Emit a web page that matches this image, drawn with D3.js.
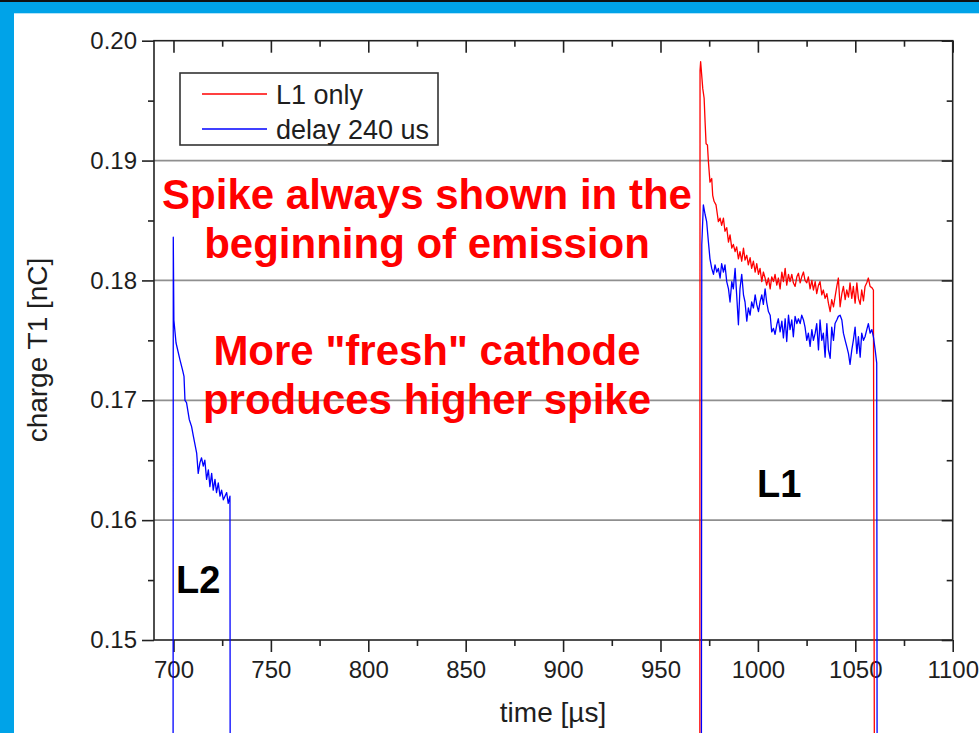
<!DOCTYPE html>
<html>
<head>
<meta charset="utf-8">
<script src="https://cdn.jsdelivr.net/npm/d3@7"></script>
<style>
  html, body { margin: 0; padding: 0; background: #fff; }
  svg { display: block; font-family: "Liberation Sans", Arial, sans-serif; }
</style>
</head>
<body>
<svg id="chart" width="979" height="733"></svg>
<script>
// ---------------- data ----------------
const xMajorTicks = [700, 750, 800, 850, 900, 950, 1000, 1050, 1100];
const xMinorTicks = [725, 775, 825, 875, 925, 975, 1025, 1075];
const yMajorTicks = [0.15, 0.16, 0.17, 0.18, 0.19, 0.20];
const yMinorTicks = [0.155, 0.165, 0.175, 0.185, 0.195];
const gridValues = [0.16, 0.17, 0.18, 0.19];

const seriesNames = ["L1 only", "delay 240 us"];
const seriesColors = ["#ff0000", "#0000ff"];

// L2 pulse (delay 240 us run)
const l2Time = [699.8, 699.9, 700.2, 701.3, 703.3, 704.7, 705.4, 705.9, 706.7, 708.1, 709.3, 710.2, 711.9, 712.7, 713.6, 714.4, 715.3, 716.1, 717.0, 717.9, 718.7, 719.6, 720.4, 721.3, 722.1, 723.0, 723.9, 724.7, 725.6, 727.3, 728.1, 729.0, 729.1];
const l2Charge = [0.140, 0.1836, 0.1767, 0.1748, 0.1734, 0.1725, 0.1720, 0.1700, 0.1698, 0.1684, 0.1678, 0.1670, 0.1656, 0.1639, 0.1648, 0.1652, 0.1645, 0.1650, 0.1634, 0.1642, 0.1628, 0.1639, 0.1625, 0.1634, 0.1623, 0.1631, 0.1620, 0.1625, 0.1617, 0.1623, 0.1614, 0.1620, 0.140];

// L1 pulse, L1 only
const l1OnlyTime = [970.2, 970.3, 970.6, 971.7, 972.4, 972.9, 973.4, 974.1, 974.6, 975.4, 976.3, 976.8, 977.5, 978.5, 979.2, 979.7, 980.6, 981.4, 982.3, 983.1, 984.0, 984.9, 985.7, 986.6, 987.4, 988.3, 989.1, 990.0, 990.8, 991.7, 992.6, 993.4, 994.3, 995.1, 996.0, 996.8, 997.7, 998.6, 999.4, 1000.3, 1001.1, 1002.0, 1002.8, 1003.7, 1004.5, 1005.4, 1006.3, 1007.1, 1008.0, 1008.8, 1009.7, 1010.5, 1011.4, 1012.3, 1013.1, 1014.0, 1014.8, 1015.7, 1016.5, 1017.4, 1018.2, 1019.1, 1020.0, 1020.8, 1021.7, 1022.5, 1023.4, 1024.2, 1025.1, 1025.9, 1026.8, 1027.7, 1028.5, 1029.4, 1030.2, 1031.1, 1031.9, 1032.8, 1033.6, 1034.5, 1035.4, 1036.2, 1037.1, 1037.9, 1038.8, 1039.6, 1040.5, 1041.3, 1042.2, 1043.1, 1043.9, 1044.8, 1045.6, 1046.5, 1047.3, 1048.2, 1049.0, 1049.9, 1050.8, 1051.6, 1052.5, 1053.3, 1054.2, 1055.0, 1055.9, 1056.7, 1057.6, 1058.5, 1059.3, 1059.8];
const l1OnlyCharge = [0.140, 0.1975, 0.19825, 0.1960, 0.1952, 0.1932, 0.1914, 0.1913, 0.1899, 0.1882, 0.1885, 0.1871, 0.1866, 0.1863, 0.1855, 0.1849, 0.1852, 0.1846, 0.1852, 0.1841, 0.1844, 0.1832, 0.1838, 0.1827, 0.1830, 0.1824, 0.1828, 0.1818, 0.1824, 0.1816, 0.1827, 0.1817, 0.1821, 0.1813, 0.1819, 0.1810, 0.1816, 0.1807, 0.1814, 0.1805, 0.1810, 0.1799, 0.1807, 0.1802, 0.1796, 0.1802, 0.1793, 0.1803, 0.1799, 0.1805, 0.1796, 0.1802, 0.1793, 0.1807, 0.1799, 0.1810, 0.1796, 0.1805, 0.1799, 0.1805, 0.1798, 0.1795, 0.1803, 0.1806, 0.1798, 0.1803, 0.1807, 0.1800, 0.1798, 0.1803, 0.1793, 0.1800, 0.1792, 0.1799, 0.1789, 0.1796, 0.1799, 0.1788, 0.1792, 0.1785, 0.1789, 0.1781, 0.1774, 0.1784, 0.1778, 0.1786, 0.1795, 0.1802, 0.1778, 0.1789, 0.1795, 0.1784, 0.1792, 0.1786, 0.1798, 0.1785, 0.1795, 0.1781, 0.1798, 0.1785, 0.1780, 0.1792, 0.1783, 0.1795, 0.1798, 0.1802, 0.1795, 0.1794, 0.1792, 0.140];

// L1 pulse, delay 240 us
const l1DelayTime = [971.0, 971.2, 972.0, 972.9, 973.7, 974.6, 975.4, 976.3, 977.2, 978.0, 978.9, 979.7, 980.6, 981.4, 982.3, 983.1, 984.0, 984.9, 985.7, 986.6, 987.4, 988.3, 989.1, 990.0, 990.8, 991.7, 992.6, 993.4, 994.3, 995.1, 996.0, 996.8, 997.7, 998.6, 999.4, 1000.3, 1001.1, 1002.0, 1002.8, 1003.7, 1004.5, 1005.4, 1006.3, 1007.1, 1008.0, 1008.8, 1009.7, 1010.5, 1011.4, 1012.3, 1013.1, 1014.0, 1014.8, 1015.7, 1016.5, 1017.4, 1018.2, 1019.1, 1020.0, 1020.8, 1021.7, 1022.5, 1023.4, 1024.2, 1025.1, 1025.9, 1026.8, 1027.7, 1028.5, 1029.4, 1030.2, 1031.1, 1031.9, 1032.8, 1033.6, 1034.5, 1035.4, 1036.2, 1037.1, 1037.9, 1038.8, 1039.6, 1040.5, 1041.3, 1042.2, 1043.1, 1043.9, 1044.8, 1045.6, 1046.5, 1047.3, 1048.2, 1049.0, 1049.9, 1050.8, 1051.6, 1052.5, 1053.3, 1054.2, 1055.0, 1055.9, 1056.7, 1057.6, 1058.5, 1059.3, 1060.2, 1061.0, 1061.2];
const l1DelayCharge = [0.140, 0.1830, 0.1863, 0.1855, 0.1849, 0.1832, 0.1818, 0.1810, 0.1805, 0.1813, 0.1807, 0.1810, 0.1802, 0.1814, 0.1807, 0.1813, 0.1799, 0.1793, 0.1782, 0.1799, 0.1793, 0.1810, 0.1788, 0.1763, 0.1793, 0.1805, 0.1788, 0.1782, 0.1766, 0.1777, 0.1771, 0.1782, 0.1777, 0.1788, 0.1780, 0.1774, 0.1782, 0.1788, 0.1780, 0.1793, 0.1782, 0.1774, 0.1771, 0.1757, 0.1760, 0.1755, 0.1763, 0.1768, 0.1757, 0.1766, 0.1752, 0.1768, 0.1749, 0.1771, 0.1759, 0.1767, 0.1753, 0.1770, 0.1764, 0.1768, 0.1764, 0.1771, 0.1767, 0.1761, 0.1750, 0.1756, 0.1745, 0.1759, 0.1750, 0.1756, 0.1764, 0.1742, 0.1767, 0.1750, 0.1756, 0.1736, 0.1764, 0.1742, 0.1735, 0.1761, 0.1750, 0.1764, 0.1767, 0.1770, 0.1771, 0.1767, 0.1756, 0.1750, 0.1745, 0.1739, 0.1730, 0.1742, 0.1750, 0.1761, 0.1739, 0.1753, 0.1736, 0.1756, 0.1750, 0.1753, 0.1759, 0.1764, 0.1756, 0.1759, 0.1753, 0.1742, 0.1731, 0.140];

const annotationLines = ["Spike always shown in the", "beginning of emission", "More \"fresh\" cathode", "produces higher spike"];
const pulseLabels = ["L2", "L1"];

// ---------------- drawing ----------------
const svg = d3.select("#chart");
const W = 979, H = 733;
const plotLeft = 154, plotRight = 952.7, plotTop = 40.7, plotBottom = 640;

const x = d3.scaleLinear().domain([690, 1100]).range([plotLeft, plotRight]);
const y = d3.scaleLinear().domain([0.15, 0.20]).range([plotBottom, plotTop]);

// frame (slide decoration)
svg.append("rect").attr("x", 0).attr("y", 0).attr("width", W).attr("height", H).attr("fill", "#fff");
svg.append("rect").attr("x", 0).attr("y", 0).attr("width", W).attr("height", 2).attr("fill", "#111");
svg.append("rect").attr("x", 0).attr("y", 2).attr("width", W).attr("height", 11.3).attr("fill", "#00a3e8");
svg.append("rect").attr("x", 0).attr("y", 2).attr("width", 14).attr("height", H - 2).attr("fill", "#00a3e8");

// grid
svg.append("g").selectAll("line").data(gridValues).join("line")
  .attr("x1", plotLeft).attr("x2", plotRight)
  .attr("y1", d => y(d)).attr("y2", d => y(d))
  .attr("stroke", "#8f8f8f").attr("stroke-width", 1.8);

const tickFont = 24;
function styleAxis(g) {
  g.select(".domain").remove();
  g.selectAll("line").attr("stroke", "#222").attr("stroke-width", 1.6);
  g.selectAll("text").attr("fill", "#1e1e1e").attr("font-size", tickFont)
    .attr("font-family", "'Liberation Sans', Arial, sans-serif");
}

// bottom axis
svg.append("g").attr("transform", `translate(0,${plotBottom})`)
  .call(d3.axisBottom(x).tickValues(xMajorTicks).tickSize(12).tickPadding(9).tickFormat(d3.format("d")))
  .call(styleAxis);
svg.append("g").attr("transform", `translate(0,${plotBottom})`)
  .call(d3.axisBottom(x).tickValues(xMinorTicks).tickSize(6).tickFormat(""))
  .call(styleAxis);
// top axis (inward ticks)
svg.append("g").attr("transform", `translate(0,${plotTop})`)
  .call(d3.axisTop(x).tickValues(xMajorTicks).tickSize(-12).tickFormat(""))
  .call(styleAxis);
svg.append("g").attr("transform", `translate(0,${plotTop})`)
  .call(d3.axisTop(x).tickValues(xMinorTicks).tickSize(-6).tickFormat(""))
  .call(styleAxis);
// left axis
svg.append("g").attr("transform", `translate(${plotLeft},0)`)
  .call(d3.axisLeft(y).tickValues(yMajorTicks).tickSize(12).tickPadding(5).tickFormat(d3.format(".2f")))
  .call(styleAxis);
svg.append("g").attr("transform", `translate(${plotLeft},0)`)
  .call(d3.axisLeft(y).tickValues(yMinorTicks).tickSize(6).tickFormat(""))
  .call(styleAxis);
// right axis (inward ticks)
svg.append("g").attr("transform", `translate(${plotRight},0)`)
  .call(d3.axisRight(y).tickValues(yMajorTicks).tickSize(-11).tickFormat(""))
  .call(styleAxis);
svg.append("g").attr("transform", `translate(${plotRight},0)`)
  .call(d3.axisRight(y).tickValues(yMinorTicks).tickSize(-6).tickFormat(""))
  .call(styleAxis);

// plot frame
svg.append("rect").attr("x", plotLeft).attr("y", plotTop)
  .attr("width", plotRight - plotLeft).attr("height", plotBottom - plotTop)
  .attr("fill", "none").attr("stroke", "#222").attr("stroke-width", 1.6);

// axis titles
svg.append("text").attr("x", 553).attr("y", 722).attr("text-anchor", "middle")
  .attr("font-size", 28).attr("fill", "#1e1e1e").text("time [\u00b5s]");
svg.append("text").attr("transform", "translate(47,350) rotate(-90)").attr("text-anchor", "middle")
  .attr("font-size", 28).attr("fill", "#1e1e1e").text("charge T1 [nC]");

// series
const line = d3.line().x(d => x(d[0])).y(d => y(d[1]));
const zip = (a, b) => a.map((t, i) => [t, b[i]]);
svg.append("path").datum(zip(l1OnlyTime, l1OnlyCharge))
  .attr("d", line).attr("fill", "none").attr("stroke", seriesColors[0]).attr("stroke-width", 1.3).attr("stroke-linejoin", "round");
svg.append("path").datum(zip(l1DelayTime, l1DelayCharge))
  .attr("d", line).attr("fill", "none").attr("stroke", seriesColors[1]).attr("stroke-width", 1.3).attr("stroke-linejoin", "round");
svg.append("path").datum(zip(l2Time, l2Charge))
  .attr("d", line).attr("fill", "none").attr("stroke", seriesColors[1]).attr("stroke-width", 1.3).attr("stroke-linejoin", "round");

// legend
const lg = svg.append("g");
lg.append("rect").attr("x", 180).attr("y", 73).attr("width", 258).attr("height", 72)
  .attr("fill", "#fff").attr("stroke", "#333").attr("stroke-width", 1.6);
seriesNames.forEach((name, i) => {
  const cy = 94 + i * 35;
  lg.append("line").attr("x1", 202).attr("x2", 267).attr("y1", cy).attr("y2", cy)
    .attr("stroke", seriesColors[i]).attr("stroke-width", 1.3);
  lg.append("text").attr("x", 276).attr("y", cy + 9.5).attr("font-size", 27)
    .attr("fill", "#1e1e1e").text(name);
});

// annotations
const annY = [209, 258, 365, 414];
annotationLines.forEach((t, i) => {
  svg.append("text").attr("x", 427).attr("y", annY[i]).attr("text-anchor", "middle")
    .attr("font-size", 42).attr("font-weight", "bold").attr("fill", "#ff0000").text(t);
});
svg.append("text").attr("x", 176).attr("y", 593).attr("font-size", 38).attr("font-weight", "bold")
  .attr("fill", "#000").text(pulseLabels[0]);
svg.append("text").attr("x", 757).attr("y", 497).attr("font-size", 38).attr("font-weight", "bold")
  .attr("fill", "#000").text(pulseLabels[1]);
</script>
</body>
</html>
